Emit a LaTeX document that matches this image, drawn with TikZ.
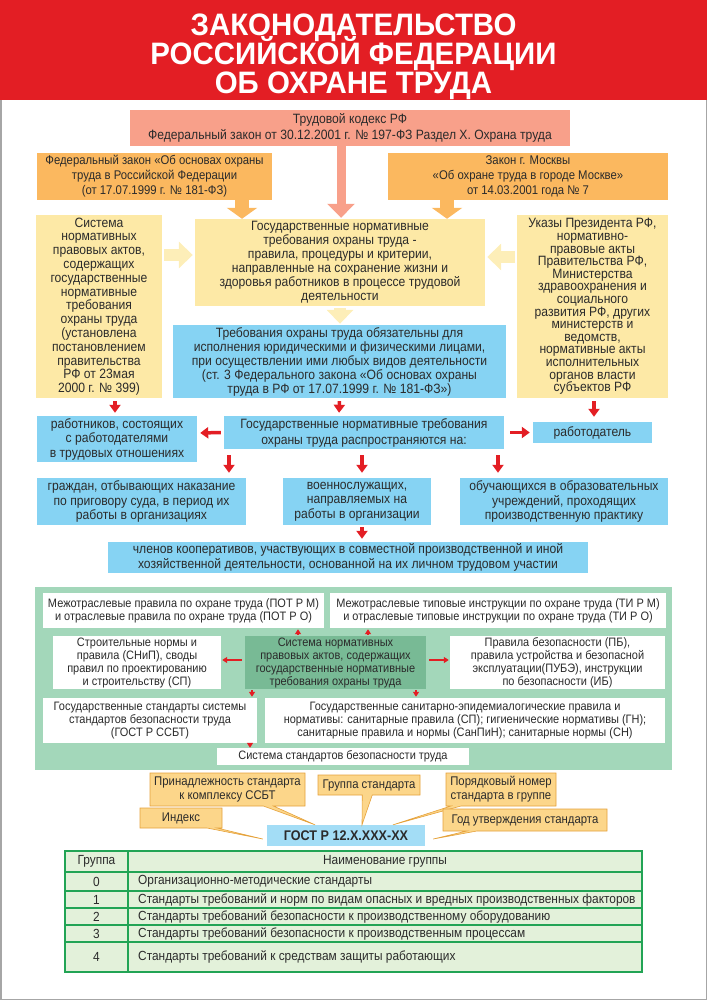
\documentclass[tikz,border=0pt]{standalone}
\usepackage{fontspec}
\setmainfont{Liberation Sans}[FakeStretch=0.9]
\newfontfamily\titlefont{Liberation Sans}[FakeStretch=0.95]
\usetikzlibrary{arrows.meta,shapes.callouts}
\lineskiplimit=-30pt

\definecolor{titlered}{HTML}{E31E24}
\definecolor{salmon}{HTML}{F8A08A}
\definecolor{laworange}{HTML}{FBB85F}
\definecolor{paleyellow}{HTML}{FDE9A6}
\definecolor{arrowyellow}{HTML}{FDEEB8}
\definecolor{skyblue}{HTML}{86D3F3}
\definecolor{codeblue}{HTML}{A3DDF6}
\definecolor{mint}{HTML}{A3D7BA}
\definecolor{darkmint}{HTML}{78BA95}
\definecolor{tablegreen}{HTML}{22A455}
\definecolor{tablefill}{HTML}{E3F1DA}
\definecolor{calloutfill}{HTML}{FCD68A}
\definecolor{calloutdraw}{HTML}{E5A23C}
\definecolor{textgray}{HTML}{2B2B2B}

\begin{document}
\begin{tikzpicture}[x=1pt, y=-1pt,
            titleline/.style={inner sep=0pt, text=white, font=\fontsize{31}{28}\titlefont\bfseries},
            box/.style={inner sep=0pt, align=center, text=textgray, font=\fontsize{13.5}{14}\selectfont},
            codebox/.style={box, fill=salmon, font=\fontsize{13.5}{16}\selectfont},
            lawbox/.style={box, fill=laworange, font=\fontsize{12.6}{15}\selectfont},
            yellowbox/.style={box, fill=paleyellow},
            bluebox/.style={box, fill=skyblue, font=\fontsize{13.5}{14.5}\selectfont},
            whitebox/.style={box, fill=white, font=\fontsize{12.2}{13}\selectfont},
            corebox/.style={whitebox, fill=darkmint},
            note/.style={rectangle callout, draw=calloutdraw, fill=calloutfill, line width=0.6pt,
                callout pointer width=10pt, inner sep=0pt, align=center, text=textgray,
                font=\fontsize{12.6}{14}\selectfont},
            tabletext/.style={inner sep=0pt, text=textgray, font=\fontsize{13.2}{14}\selectfont},
            bigarrow/.style={draw=salmon, line width=9pt, -{Triangle[width=27pt,length=14pt]}},
            orangearrow/.style={draw=laworange, line width=14pt, -{Triangle[width=30pt,length=11pt]}},
            palearrow/.style={draw=arrowyellow, line width=12pt, -{Triangle[width=26pt,length=14pt]},
                shorten <=2pt, shorten >=2pt},
            redarrow/.style={draw=titlered, line width=3.5pt, -{Triangle[width=11pt,length=8pt]},
                shorten <=3pt, shorten >=3pt},
            tinyarrow/.style={draw=titlered, line width=1.6pt, -{Triangle[width=6pt,length=5pt]},
                shorten <=1pt, shorten >=1pt}
        ]
            \useasboundingbox (0,0) rectangle (707,1000);
            % frame and title
            \draw[gray!70, line width=1.5pt] (0.75,0.75) rectangle (706.25,999.25);
            \fill[titlered] (0,0) rectangle (707,100);
            \node[titleline, anchor=base] (title1) at (353.5,35.5) {ЗАКОНОДАТЕЛЬСТВО};
            \node[titleline, anchor=base] (title2) at (353.5,64.5) {РОССИЙСКОЙ ФЕДЕРАЦИИ};
            \node[titleline, anchor=base] (title3) at (353.5,94) {ОБ ОХРАНЕ ТРУДА};
            % laws
            \node[codebox, minimum width=440, minimum height=36] (kodeks) at (350,128)
                {Трудовой кодекс РФ\\Федеральный закон от 30.12.2001 г. № 197-ФЗ Раздел X. Охрана труда};
            \node[lawbox, minimum width=235, minimum height=47] (lawleft) at (154.5,176.5)
                {Федеральный закон «Об основах охраны\\труда в Российской Федерации\\(от 17.07.1999 г. № 181-ФЗ)};
            \node[lawbox, minimum width=280, minimum height=47] (lawright) at (528,176.5)
                {Закон г. Москвы\\«Об охране труда в городе Москве»\\от 14.03.2001 года № 7};
            % requirements
            \node[yellowbox, minimum width=290, minimum height=87] (req) at (340,262.5)
                {Государственные нормативные\\требования охраны труда -\\правила, процедуры и критерии,\\направленные на сохранение жизни и\\здоровья работников в процессе трудовой\\деятельности};
            \node[yellowbox, minimum width=126, minimum height=183, font=\fontsize{13.5}{13.8}\selectfont] (leftsys) at (99,306.5)
                {Система\\нормативных\\правовых актов,\\содержащих\\государственные\\нормативные\\требования\\охраны труда\\(установлена\\постановлением\\правительства\\РФ от 23мая\\2000 г. № 399)};
            \node[yellowbox, minimum width=151, minimum height=183, font=\fontsize{13.5}{12.6}\selectfont] (ukazy) at (592.5,306.5)
                {Указы Президента РФ,\\нормативно-\\правовые акты\\Правительства РФ,\\Министерства\\здравоохранения и\\социального\\развития РФ, других\\министерств и\\ведомств,\\нормативные акты\\исполнительных\\органов власти\\субъектов РФ};
            \node[bluebox, minimum width=333, minimum height=73, font=\fontsize{13.5}{14}\selectfont] (oblig) at (339.5,361.5)
                {Требования охраны труда обязательны для\\исполнения юридическими и физическими лицами,\\при осуществлении ими любых видов деятельности\\(ст. 3 Федерального закона «Об основах охраны\\труда в РФ от 17.07.1999 г. № 181-ФЗ»)};
            % who is covered
            \node[bluebox, minimum width=160, minimum height=46] (rab) at (117,439)
                {работников, состоящих\\с работодателями\\в трудовых отношениях};
            \node[bluebox, minimum width=280, minimum height=33, font=\fontsize{13.5}{16}\selectfont] (rasp) at (364,432.5)
                {Государственные нормативные требования\\охраны труда распространяются на:};
            \node[bluebox, minimum width=119, minimum height=21] (employer) at (592.5,432.5) {работодатель};
            \node[bluebox, minimum width=209, minimum height=47] (citizens) at (141.5,501.5)
                {граждан, отбывающих наказание\\по приговору суда, в период их\\работы в организациях};
            \node[bluebox, minimum width=148, minimum height=47] (military) at (357,501.5)
                {военнослужащих,\\направляемых на\\работы в организации};
            \node[bluebox, minimum width=208, minimum height=47] (students) at (564,501.5)
                {обучающихся в образовательных\\учреждений, проходящих\\производственную практику};
            \node[bluebox, minimum width=480, minimum height=31] (members) at (348,557.5)
                {членов кооперативов, участвующих в совместной производственной и иной\\хозяйственной деятельности, основанной на их личном трудовом участии};
            % arrows top
            \draw[bigarrow, shorten >=1pt] ([xshift=-9pt]kodeks.south) -- ([xshift=1pt]req.north);
            \draw[orangearrow] ([xshift=87.5pt]lawleft.south) -- ([xshift=-98pt]req.north);
            \draw[orangearrow] ([xshift=-81pt]lawright.south) -- ([xshift=107pt]req.north);
            \draw[palearrow] ([yshift=51.5pt]leftsys.east) -- ([yshift=7.5pt]req.west);
            \draw[palearrow] ([yshift=49.5pt]ukazy.west) -- ([yshift=5.5pt]req.east);
            \draw[palearrow, shorten >=1pt] (req.south) -- ([xshift=0.5pt]oblig.north);
            % arrows red
            \draw[redarrow] ([xshift=16pt]leftsys.south) -- ([xshift=-2pt]rab.north);
            \draw[redarrow] (oblig.south) -- ([xshift=-25pt]rasp.north);
            \draw[redarrow, shorten >=5pt] ([xshift=1.5pt]ukazy.south) -- ([xshift=1.5pt]employer.north);
            \draw[redarrow] (rasp.west) -- ([yshift=6pt]rab.east);
            \draw[redarrow, shorten <=6pt] (rasp.east) -- (employer.west);
            \draw[redarrow, shorten <=6pt, shorten >=5pt] ([xshift=-135pt]rasp.south) -- ([xshift=87.5pt]citizens.north);
            \draw[redarrow, shorten <=6pt, shorten >=5pt] ([xshift=-2pt]rasp.south) -- ([xshift=5pt]military.north);
            \draw[redarrow, shorten <=6pt, shorten >=5pt] ([xshift=134pt]rasp.south) -- ([xshift=-66pt]students.north);
            \draw[redarrow, shorten <=2pt, shorten >=3pt] ([xshift=5pt]military.south) -- ([xshift=14pt]members.north);
            % normative system
            \fill[mint] (35,587) rectangle (672,770);
            \node[whitebox, minimum width=281, minimum height=35] (pot) at (183.5,610.5)
                {Межотраслевые правила по охране труда (ПОТ Р М)\\и отраслевые правила по охране труда (ПОТ Р О)};
            \node[whitebox, minimum width=336, minimum height=35] (ti) at (498,610.5)
                {Межотраслевые типовые инструкции по охране труда (ТИ Р М)\\и отраслевые типовые инструкции по охране труда (ТИ Р О)};
            \node[whitebox, minimum width=168, minimum height=53] (snip) at (137,662.5)
                {Строительные нормы и\\правила (СНиП), своды\\правил по проектированию\\и строительству (СП)};
            \node[corebox, minimum width=181, minimum height=53] (core) at (335.5,662.5)
                {Система нормативных\\правовых актов, содержащих\\государственные нормативные\\требования охраны труда};
            \node[whitebox, minimum width=215, minimum height=53] (pb) at (557.5,662.5)
                {Правила безопасности (ПБ),\\правила устройства и безопасной\\эксплуатации(ПУБЭ), инструкции\\по безопасности (ИБ)};
            \node[whitebox, minimum width=214, minimum height=45] (gost) at (150,720.5)
                {Государственные стандарты системы\\стандартов безопасности труда\\(ГОСТ Р ССБТ)};
            \node[whitebox, minimum width=400, minimum height=45] (san) at (465,720.5)
                {Государственные санитарно-эпидемиалогические правила и\\нормативы: санитарные правила (СП); гигиенические нормативы (ГН);\\санитарные правила и нормы (СанПиН); санитарные нормы (СН)};
            \node[whitebox, minimum width=252, minimum height=17] (ssbt) at (343,756.5)
                {Система стандартов безопасности труда};
            \draw[tinyarrow] ([xshift=-37.5pt]core.north) -- ([xshift=114.5pt]pot.south);
            \draw[tinyarrow] ([xshift=32.5pt]core.north) -- ([xshift=-130pt]ti.south);
            \draw[tinyarrow, shorten <=3pt] ([yshift=2.5pt]core.west) -- ([yshift=2.5pt]snip.east);
            \draw[tinyarrow, shorten <=3pt] ([yshift=2.5pt]core.east) -- ([yshift=2.5pt]pb.west);
            \draw[tinyarrow] ([xshift=-83.5pt]core.south) -- ([xshift=102pt]gost.north);
            \draw[tinyarrow] ([xshift=80.5pt]core.south) -- ([xshift=-49pt]san.north);
            \draw[tinyarrow, shorten <=0pt, shorten >=0pt] ([xshift=100pt]gost.south) -- ([xshift=-93pt]ssbt.north);
            % standard code
            \node[box, fill=codeblue, minimum width=158, minimum height=21, font=\fontsize{14}{15}\selectfont\bfseries] (gostcode) at (346,835.5)
                {ГОСТ Р 12.Х.ХХХ-ХХ};
            \node[note, minimum width=155, minimum height=33, callout absolute pointer={([xshift=-31pt]gostcode.north)}] (belong) at (227.5,789.5)
                {Принадлежность стандарта\\к комплексу ССБТ};
            \node[note, minimum width=102, minimum height=20, callout absolute pointer={([xshift=16pt]gostcode.north)}] (group) at (369,785)
                {Группа стандарта};
            \node[note, minimum width=110, minimum height=33, callout absolute pointer={([xshift=47pt]gostcode.north)}] (number) at (501,789.5)
                {Порядковый номер\\стандарта в группе};
            \node[note, minimum width=82, minimum height=20, callout absolute pointer={([xshift=-4pt,yshift=-3.5pt]gostcode.west)}] (index) at (181,818)
                {Индекс};
            \node[note, minimum width=164, minimum height=22, callout absolute pointer={([xshift=8pt,yshift=-3.5pt]gostcode.east)}] (year) at (525,820)
                {Год утверждения стандарта};
            % table
            \draw[tablegreen, fill=tablefill, line width=2pt] (65,851) rectangle (642,972);
            \foreach \yl in {872,891,908,925,942}
                \draw[tablegreen, line width=1.5pt] (65,\yl) -- (642,\yl);
            \draw[tablegreen, line width=1.5pt] (128,851) -- (128,972);
            \node[tabletext] (grouphead) at (96.5,861.5) {Группа};
            \node[tabletext] (namehead) at (385,861.5) {Наименование группы};
            \foreach \g/\yc/\txt in {0/881.5/Организационно-методические стандарты,
                    1/899.5/Стандарты требований и норм по видам опасных и вредных производственных факторов,
                    2/916.5/Стандарты требований безопасности к производственному оборудованию,
                    3/933.5/Стандарты требований безопасности к производственным процессам,
                    4/957/Стандарты требований к средствам защиты работающих} {
                \node[tabletext] (num\g) at (96.5,\yc) {\g};
                \node[tabletext, anchor=west] (name\g) at (138,\yc) {\txt};
            }
        \end{tikzpicture}
\end{document}
